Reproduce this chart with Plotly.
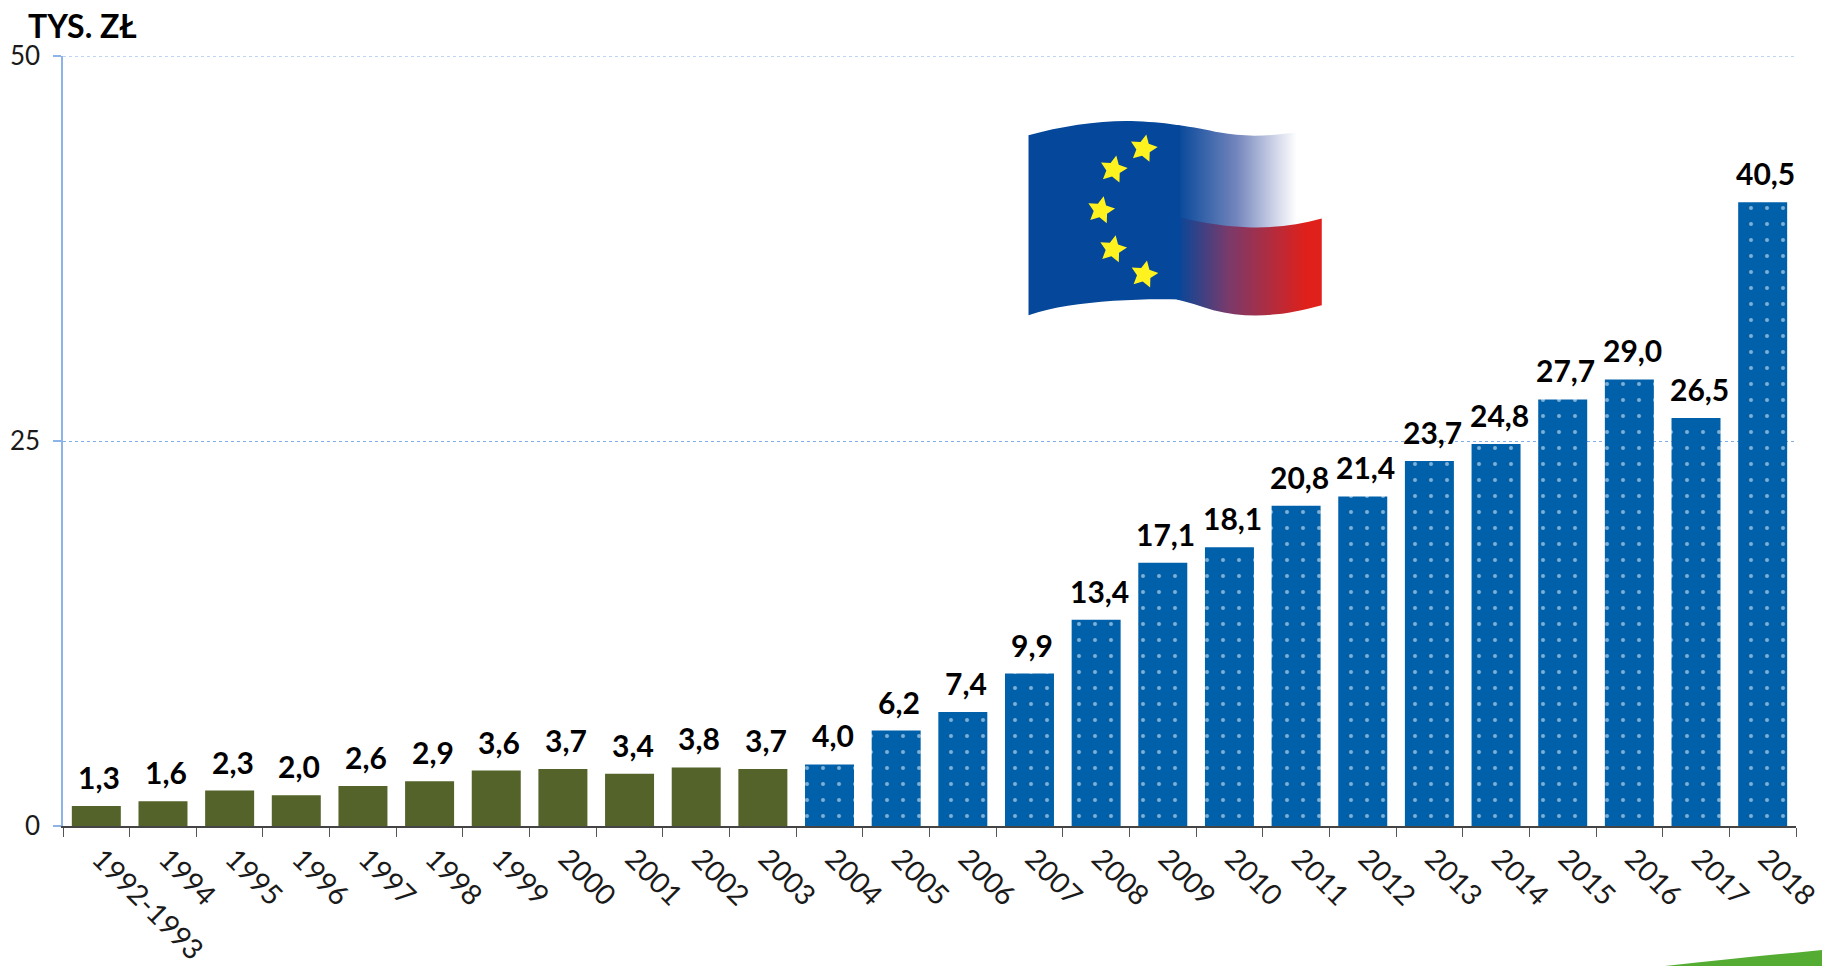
import base64
import math
import plotly.graph_objects as go

categories = ["1992-1993", "1994", "1995", "1996", "1997", "1998", "1999", "2000", "2001",
              "2002", "2003", "2004", "2005", "2006", "2007", "2008", "2009", "2010", "2011",
              "2012", "2013", "2014", "2015", "2016", "2017", "2018"]
values = [1.3, 1.6, 2.3, 2.0, 2.6, 2.9, 3.6, 3.7, 3.4, 3.8, 3.7, 4.0, 6.2, 7.4, 9.9, 13.4,
          17.1, 18.1, 20.8, 21.4, 23.7, 24.8, 27.7, 29.0, 26.5, 40.5]
green_count = 11
GREEN = "#536329"
BLUE = "#0060AA"
W, H = 1822, 966
FONT = "Lato"

stars = [(490, 175), (400, 238), (362, 360), (398, 477), (492, 553)]
def star_path(cx, cy, r=43):
    pts = []
    for i in range(10):
        rad = r if i % 2 == 0 else r * 0.5
        a = -math.pi / 2 + i * math.pi / 5 + 0.2
        pts.append(f"{cx + rad * math.cos(a):.1f},{cy + rad * math.sin(a):.1f}")
    return "<polygon points='" + " ".join(pts) + "' fill='#FFF21E'/>"

flag_svg = f"""<svg xmlns='http://www.w3.org/2000/svg' width='1140' height='780' viewBox='0 0 1140 780'>
<defs>
<linearGradient id='w' gradientUnits='userSpaceOnUse' x1='590' y1='0' x2='950' y2='0'>
<stop offset='0' stop-color='#05479A'/><stop offset='0.5' stop-color='#7385BC'/><stop offset='0.85' stop-color='#D8DCEC'/><stop offset='1' stop-color='#FFFFFF'/></linearGradient>
<linearGradient id='r' gradientUnits='userSpaceOnUse' x1='590' y1='0' x2='980' y2='0'>
<stop offset='0' stop-color='#05479A'/><stop offset='0.4' stop-color='#7A3A6A'/><stop offset='1' stop-color='#E0201A'/></linearGradient>
</defs>
<path d='M590,104 C640,110 680,119 720,127 C800,142 900,140 1025,110 L1025,440 L590,440 Z' fill='url(#w)'/>
<path d='M590,380 C680,400 740,408 800,411 C880,414 950,405 1025,385 L1025,645 C900,680 800,685 700,660 C660,648 625,636 590,628 Z' fill='url(#r)'/>
<path d='M145,135 C250,105 380,88 470,93 C520,95 560,99 600,106 L600,628 C540,626 470,627 400,632 C300,640 220,650 145,675 Z' fill='#05479A'/>
{''.join(star_path(x, y) for x, y in stars)}
</svg>"""
flag_uri = "data:image/svg+xml;base64," + base64.b64encode(flag_svg.encode()).decode()

colors = [GREEN] * green_count + [BLUE] * (len(values) - green_count)
shapes_p = [""] * green_count + ["."] * (len(values) - green_count)

fig = go.Figure(go.Bar(
    x=categories, y=values, width=0.735,
    marker=dict(color=colors, line=dict(width=0),
                pattern=dict(shape=shapes_p, size=16, solidity=0.05,
                             fgcolor="#CFE6F6", fillmode="overlay")),
    hoverinfo="x+y",
))

# on a category axis, annotation positions are given as category indices
annotations = [dict(x=i, y=v, text=f"{v:.1f}".replace(".", ","), showarrow=False, xanchor="center",
                    yanchor="bottom", yshift=9, xshift=3, font=dict(family=FONT, size=30, color="#000000",
                                                                    weight="bold"))
               for i, v in enumerate(values)]
annotations.append(dict(xref="paper", yref="paper", x=-0.0215, y=1.0, xanchor="left", yanchor="bottom",
                        yshift=9, text="<b>TYS. ZŁ</b>", showarrow=False,
                        font=dict(family=FONT, size=32, color="#000000")))

fig.update_layout(
    width=W, height=H, autosize=False,
    margin=dict(l=62.6, r=W - 1796, t=55.7, b=H - 826, pad=0),
    paper_bgcolor="#FFFFFF", plot_bgcolor="#FFFFFF",
    showlegend=False, bargap=0.265,
    font=dict(family=FONT, color="#1A1A1A"),
    annotations=annotations,
    images=[dict(source=flag_uri, xref="paper", yref="paper", sizing="stretch", layer="above",
                 x=(980 - 62.6) / (1796 - 62.6), y=(826 - 90) / (826 - 55.7),
                 sizex=380 / (1796 - 62.6), sizey=260 / (826 - 55.7),
                 xanchor="left", yanchor="top")],
    shapes=[dict(type="path", xref="paper", yref="paper", layer="above",
                 path=f"M {(1665 - 62.6) / 1733.4} {(826 - 966) / 770.3} "
                      f"C {(1720 - 62.6) / 1733.4} {(826 - 960) / 770.3}, {(1770 - 62.6) / 1733.4} {(826 - 955) / 770.3}, "
                      f"{(1822 - 62.6) / 1733.4} {(826 - 950) / 770.3} "
                      f"L {(1822 - 62.6) / 1733.4} {(826 - 966) / 770.3} Z",
                 fillcolor="#54AD32", line=dict(width=0)),
            dict(type="line", xref="paper", yref="y", x0=0, x1=1, y0=50, y1=50, layer="below",
                 line=dict(color="#7FAEE8", width=1, dash="dot"))],
)
fig.update_xaxes(type="category", categoryorder="array", categoryarray=categories,
                 range=[-0.5, len(categories) - 0.5],
                 tickson="boundaries", ticks="outside", ticklen=9, tickwidth=1, tickcolor="#555555",
                 showline=True, linecolor="#444444", linewidth=1.5, showgrid=False,
                 tickangle=45, automargin=False, ticklabelstandoff=3, ticklabelshift=4,
                 tickfont=dict(family=FONT, size=28.5, color="#1A1A1A"))
fig.update_yaxes(range=[0, 50], tickvals=[0, 25, 50], ticks="outside", ticklen=8, tickwidth=1.5,
                 tickcolor="#8DB4E8", showline=True, linecolor="#8DB4E8", linewidth=1.5,
                 showgrid=True, gridcolor="#7FAEE8", griddash="dot", gridwidth=1, zeroline=False,
                 automargin=False, ticklabelstandoff=8,
                 tickfont=dict(family=FONT, size=26, color="#1A1A1A"))

fig.write_html("out.html", config=dict(displayModeBar=False),
               post_script="document.body.style.margin='0';document.documentElement.style.overflow='hidden';")
